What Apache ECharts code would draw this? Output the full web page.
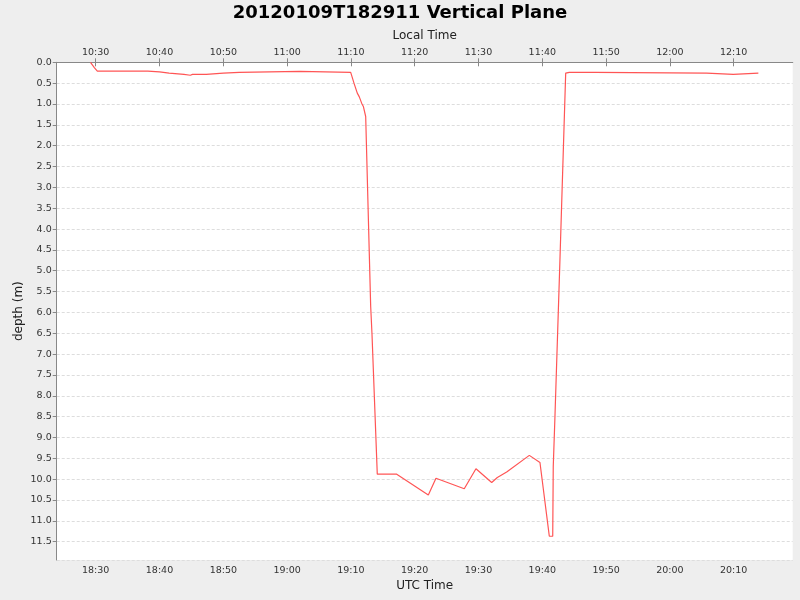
<!DOCTYPE html>
<html>
<head>
<meta charset="utf-8">
<script src="https://cdn.jsdelivr.net/npm/echarts@6/dist/echarts.min.js"></script>
<style>
  html, body { margin: 0; padding: 0; background: #eeeeee; }
  #chart { width: 800px; height: 600px; }
</style>
</head>
<body>
<div id="chart"></div>
<script>
// ---- data ----
const titleText = "20120109T182911 Vertical Plane";
const utcTimes = ["18:29:11","18:29:47","18:30:15","18:38:10","18:38:20","18:40:00","18:40:10","18:41:30","18:41:40","18:43:50",
  "18:44:00","18:44:50","18:45:10","18:47:20","18:47:30","18:50:00","18:50:10","18:52:30","18:52:40","19:02:00",
  "19:02:15","19:09:58","19:10:29","19:11:00","19:11:19","19:11:41","19:11:57","19:12:19","19:13:06","19:13:18",
  "19:13:28","19:14:08","19:17:11","19:22:08","19:23:20","19:27:46","19:29:36","19:32:04","19:32:57","19:34:25",
  "19:37:58","19:39:38","19:41:06","19:41:38","19:41:43","19:41:59","19:42:15","19:42:46","19:43:40","19:44:14",
  "19:48:16","19:48:32","20:05:46","20:05:50","20:09:56","20:10:00","20:13:52"];
const depths = [0.00,0.13,0.21,0.21,0.23,0.23,0.25,0.26,0.28,0.29,
  0.31,0.31,0.29,0.29,0.27,0.26,0.24,0.24,0.22,0.22,
  0.24,0.24,0.50,0.74,0.83,0.98,1.06,1.30,5.86,6.50,
  6.50,9.88,9.88,10.38,9.98,10.23,9.75,10.08,9.96,9.83,
  9.43,9.60,11.37,11.37,9.70,8.50,7.22,4.74,0.26,0.24,
  0.24,0.26,0.26,0.29,0.29,0.26,0.26];
const utcTickLabels = ["18:30","18:40","18:50","19:00","19:10","19:20","19:30","19:40","19:50","20:00","20:10"];
const localTickLabels = ["10:30","10:40","10:50","11:00","11:10","11:20","11:30","11:40","11:50","12:00","12:10"];
const xMinUTC = "18:23:53";
const xMaxUTC = "20:19:15";
const depthMax = 11.94;

// ---- helpers ----
function toMin(s) {
  const p = s.split(":").map(Number);
  return p[0] * 60 + p[1] + (p[2] || 0) / 60;
}
const tickValues = utcTickLabels.map(toMin);
function labelFor(v, labels) {
  for (let i = 0; i < tickValues.length; i++) {
    if (Math.abs(tickValues[i] - v) < 1e-6) return labels[i];
  }
  return "";
}
const seriesData = utcTimes.map((t, i) => [toMin(t), depths[i]]);

const FONT = "DejaVu Sans";
const axisColor = "#888888";
const labelColor = "#333333";

const xCommon = {
  type: "value",
  min: toMin(xMinUTC),
  max: toMin(xMaxUTC),
  nameLocation: "middle",
  nameGap: 20,
  nameMoveOverlap: false,
  nameTextStyle: { fontFamily: FONT, fontSize: 12, color: "#222" },
  axisLine: { show: true, lineStyle: { color: axisColor, width: 1 } },
  axisTick: { show: true, length: 4, lineStyle: { color: axisColor }, customValues: tickValues },
  splitLine: { show: false }
};

const chart = echarts.init(document.getElementById("chart"), null, { renderer: "canvas" });
chart.setOption({
  animation: false,
  backgroundColor: "#eeeeee",
  title: {
    text: titleText,
    left: "center",
    top: -1,
    textStyle: { fontFamily: FONT, fontSize: 18, fontWeight: "bold", color: "#000" }
  },
  grid: {
    left: 56.7, right: 7.3, top: 62.3, bottom: 40,
    show: true, backgroundColor: "#ffffff", borderWidth: 0
  },
  xAxis: [
    Object.assign({}, xCommon, {
      position: "bottom",
      name: "UTC Time",
      axisLabel: {
        customValues: tickValues, margin: 6,
        fontFamily: FONT, fontSize: 9.5, color: labelColor,
        formatter: v => labelFor(v, utcTickLabels)
      }
    }),
    Object.assign({}, xCommon, {
      position: "top",
      name: "Local Time",
      nameGap: 20,
      axisLabel: {
        customValues: tickValues, margin: 5,
        fontFamily: FONT, fontSize: 9.5, color: labelColor,
        formatter: v => labelFor(v, localTickLabels)
      }
    })
  ],
  yAxis: {
    type: "value",
    inverse: true,
    min: 0,
    max: depthMax,
    interval: 0.5,
    name: "depth (m)",
    nameLocation: "middle",
    nameGap: 32,
    nameRotate: 90,
    nameMoveOverlap: false,
    nameTextStyle: { fontFamily: FONT, fontSize: 12, color: "#222" },
    axisLine: { show: true, lineStyle: { color: axisColor, width: 1 } },
    axisTick: { show: true, length: 4, lineStyle: { color: axisColor } },
    axisLabel: {
      margin: 5, showMaxLabel: false,
      fontFamily: FONT, fontSize: 9.5, color: labelColor,
      formatter: v => v.toFixed(1)
    },
    splitLine: { show: true, lineStyle: { color: "#dddddd", width: 1, type: [3, 2] } }
  },
  series: [{
    type: "line",
    xAxisIndex: 0,
    yAxisIndex: 0,
    data: seriesData,
    showSymbol: false,
    symbol: "none",
    lineStyle: { color: "#ff5555", width: 1.2 },
    emphasis: { disabled: true }
  }]
});
</script>
</body>
</html>
